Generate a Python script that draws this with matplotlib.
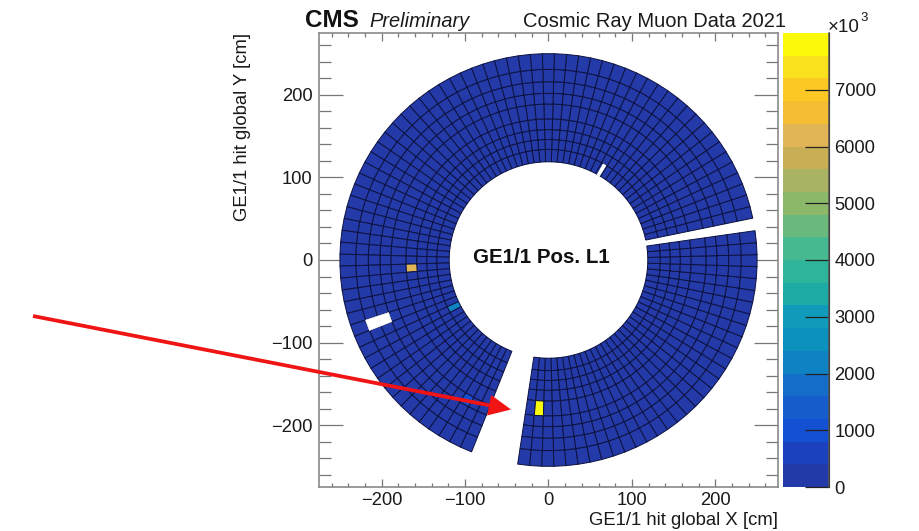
import numpy as np
import matplotlib
matplotlib.use("Agg")
import matplotlib.pyplot as plt
from matplotlib.colors import ListedColormap, BoundaryNorm
from matplotlib.patches import FancyArrowPatch, Polygon
from matplotlib.ticker import MultipleLocator

plt.rcParams['font.family'] = ['Liberation Sans', 'DejaVu Sans']

# ---- data ----
ring_edges = [119, 134, 146, 158, 171, 189, 202, 216, 231, 250]   # cm
phi_cell = 10 / 3                                                # deg per cell
sector_a = (-98.5, 32)    # start angle, number of cells
sector_b = (11.7, 71)
background_hits = 150
# (phi deg, ring index, hits)
hot_cells = [(-93.5, 4, 7950), (183.2, 3, 6100), (206.7, 0, 2100), (239.8, 5, 1000)]
# (phi deg, ring index) without any hits
dead_cells = [(200.0, 6), (200.0, 7)]
slit_phi = [58.8, 60.8]
slit_r = [118, 134]
level_step = 400
n_levels = 20
cbar_ticks = [0, 1000, 2000, 3000, 4000, 5000, 6000, 7000]
axis_limit = 275
major_ticks = [-200, -100, 0, 100, 200]

band_rgb = [(36, 58, 168), (28, 65, 190), (20, 80, 210), (22, 92, 205), (20, 110, 200),
            (15, 130, 195), (12, 145, 190), (15, 155, 185), (30, 170, 165), (45, 180, 155),
            (70, 185, 145), (105, 185, 125), (140, 185, 105), (170, 178, 100), (200, 175, 85),
            (225, 180, 85), (245, 190, 50), (252, 200, 35), (250, 225, 30), (250, 250, 10)]

W, H = 920, 531
fig = plt.figure(figsize=(W / 100, H / 100), dpi=100, facecolor='white')


def rect(l, t, r, b):
    return [l / W, 1 - b / H, (r - l) / W, (b - t) / H]


def ftext(x, y, s, **kw):
    return fig.text(x / W, 1 - y / H, s, **kw)


ax = fig.add_axes(rect(319, 33, 778, 487))
cax = fig.add_axes(rect(783, 33, 829, 487))

cmap = ListedColormap([tuple(c / 255 for c in rgb) for rgb in band_rgb])
cmap.set_bad((1, 1, 1, 0))
norm = BoundaryNorm(np.arange(0, (n_levels + 1) * level_step, level_step), n_levels)


def draw_sector(start, n):
    phi = start + np.arange(n + 1) * phi_cell
    r = np.array(ring_edges, dtype=float)
    P, R = np.meshgrid(np.radians(phi), r)
    X, Y = R * np.cos(P), R * np.sin(P)
    Z = np.full((len(r) - 1, n), float(background_hits))
    for p, ring, hits in hot_cells:
        i = int(((p - start) % 360) // phi_cell)
        if i < n:
            Z[ring, i] = hits
    for p, ring in dead_cells:
        i = int(((p - start) % 360) // phi_cell)
        if i < n:
            Z[ring, i] = np.nan
    m = ax.pcolormesh(X, Y, np.ma.masked_invalid(Z), cmap=cmap, norm=norm,
                      edgecolors='#0c1240', linewidth=0.7, antialiased=True, zorder=2)
    m.set_snap(False)
    return m


mesh = draw_sector(*sector_a)
mesh = draw_sector(*sector_b)

# blank out dead cells cleanly (no outline)
for p, ring in dead_cells:
    k = int(((p - sector_b[0]) % 360) // phi_cell)
    a0 = np.radians(sector_b[0] + k * phi_cell)
    a1 = np.radians(sector_b[0] + (k + 1) * phi_cell)
    r0, r1 = ring_edges[ring], ring_edges[ring + 1]
    ax.add_patch(Polygon([(r0 * np.cos(a0), r0 * np.sin(a0)), (r1 * np.cos(a0), r1 * np.sin(a0)),
                          (r1 * np.cos(a1), r1 * np.sin(a1)), (r0 * np.cos(a1), r0 * np.sin(a1))],
                         closed=True, fc='white', ec='white', lw=0.4, zorder=3))
a = np.radians(slit_phi)
ax.add_patch(Polygon([(slit_r[0] * np.cos(a[0]), slit_r[0] * np.sin(a[0])),
                      (slit_r[1] * np.cos(a[0]), slit_r[1] * np.sin(a[0])),
                      (slit_r[1] * np.cos(a[1]), slit_r[1] * np.sin(a[1])),
                      (slit_r[0] * np.cos(a[1]), slit_r[0] * np.sin(a[1]))],
                     closed=True, fc='white', ec='none', zorder=3))

ax.set_xlim(-axis_limit, axis_limit)
ax.set_ylim(-axis_limit, axis_limit)
ax.set_xticks(major_ticks)
ax.set_yticks(major_ticks)
ax.set_xticklabels([str(v).replace('-', '\u2212') for v in major_ticks])
ax.set_yticklabels([str(v).replace('-', '\u2212') for v in major_ticks])
ax.xaxis.set_minor_locator(MultipleLocator(20))
ax.yaxis.set_minor_locator(MultipleLocator(20))
axis_gray = '#777777'
ax.tick_params(axis='x', which='major', direction='in', top=True, bottom=True, length=5.5,
               width=0.9, color=axis_gray, labelsize=13.2, pad=3.5, labelcolor='#1a1a1a')
ax.tick_params(axis='x', which='minor', direction='in', top=True, bottom=True, length=2.8,
               width=0.9, color=axis_gray)
ax.tick_params(axis='y', which='major', direction='in', left=True, right=True, length=17,
               width=0.9, color=axis_gray, labelsize=13.2, pad=4.5, labelcolor='#1a1a1a')
ax.tick_params(axis='y', which='minor', direction='in', left=True, right=True, length=8.5,
               width=0.9, color=axis_gray)
for s in ax.spines.values():
    s.set_color('#8a8a8a')
    s.set_linewidth(1.2)

cb = fig.colorbar(mesh, cax=cax, spacing='proportional', drawedges=False)
cb.set_ticks(cbar_ticks)
cb.set_ticklabels([str(v) for v in cbar_ticks])
cb.ax.minorticks_off()
cax.tick_params(axis='y', which='major', direction='in', right=True, left=False, length=17,
                width=0.9, color='#222222', labelsize=13.2, pad=4, labelcolor='#1a1a1a')
cb.outline.set_visible(False)
cax.spines['right'].set_visible(True)
cax.plot([1, 1], [0, 1], transform=cax.transAxes, color='#555555', lw=1.1, clip_on=False, zorder=5)

ftext(305, 27, 'CMS', fontsize=17.5, fontweight='bold', color='#111111', ha='left', va='baseline')
ftext(369, 27, 'Preliminary', fontsize=14.4, fontstyle='italic', color='#1a1a1a', ha='left', va='baseline')
ftext(786, 27, 'Cosmic Ray Muon Data 2021', fontsize=14.5, color='#1a1a1a', ha='right', va='baseline')
ftext(541.5, 263, 'GE1/1 Pos. L1', fontsize=14.8, fontweight='bold', color='#111111', ha='center', va='baseline')
ftext(778, 525, 'GE1/1 hit global X [cm]', fontsize=13.3, color='#1a1a1a', ha='right', va='baseline')
ftext(251, 33, 'GE1/1 hit global Y [cm]', fontsize=13.3, color='#1a1a1a', rotation=90,
      ha='right', va='top')
ftext(828, 32, '\u00d710', fontsize=13.5, color='#1a1a1a', ha='left', va='baseline')
ftext(860.5, 21, '3', fontsize=9.5, color='#1a1a1a', ha='left', va='baseline')

arrow = FancyArrowPatch((33 / W, 1 - 316 / H), (511 / W, 1 - 409.5 / H),
                        transform=fig.transFigure,
                        arrowstyle='-|>,head_length=11.5,head_width=5.4', mutation_scale=1,
                        shrinkA=0, shrinkB=0, color='#f01414', lw=2.7, zorder=20,
                        joinstyle='miter', capstyle='butt')
fig.add_artist(arrow)

fig.savefig('out.png', dpi=100, facecolor='white')
